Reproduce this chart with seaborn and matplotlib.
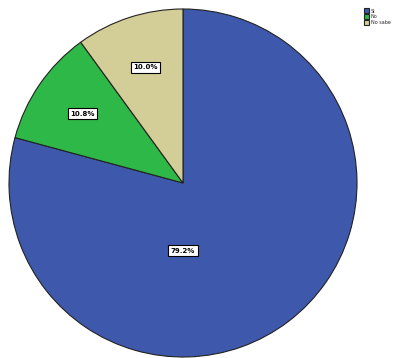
import matplotlib
matplotlib.use("Agg")
import matplotlib.pyplot as plt
import seaborn as sns

categories = ["Si", "No", "No sabe"]
percentages = [79.2, 10.8, 10.0]
colors = ["#3E58AC", "#2EB848", "#D3CE97"]

sns.set_theme(style="white")
plt.rcParams["font.family"] = ["DejaVu Sans"]

fig = plt.figure(figsize=(4.06, 3.58), dpi=100)
fig.patch.set_facecolor("white")
r_px = 174
cx, cy = 183, 183
ax = fig.add_axes([(cx - r_px) / 406, (358 - cy - r_px) / 358, 2 * r_px / 406, 2 * r_px / 358])

wedges, texts, autotexts = ax.pie(
    percentages, colors=colors, startangle=90, counterclock=False,
    autopct=lambda p: f"{p:.1f}%", pctdistance=0.7,
    wedgeprops=dict(edgecolor="#222222", linewidth=0.8),
    textprops=dict(fontsize=5, color="black", fontweight="bold"),
)
for t in autotexts:
    t.set_bbox(dict(boxstyle="square,pad=0.35", facecolor="white", edgecolor="black", linewidth=0.8))
# the large slice has its label placed below the centre
autotexts[0].set_position((0, -0.39))

ax.set_xlim(-1, 1)
ax.set_ylim(-1, 1)
ax.set_aspect("equal")
ax.axis("off")

leg = fig.legend(wedges, categories, loc="upper left", bbox_to_anchor=(362 / 406, 1 - 6 / 358),
                 frameon=False, fontsize=3.5, handlelength=0.9, handleheight=1.2,
                 labelspacing=0.15, handletextpad=0.4, borderpad=0)

fig.savefig("out.png", dpi=100)
